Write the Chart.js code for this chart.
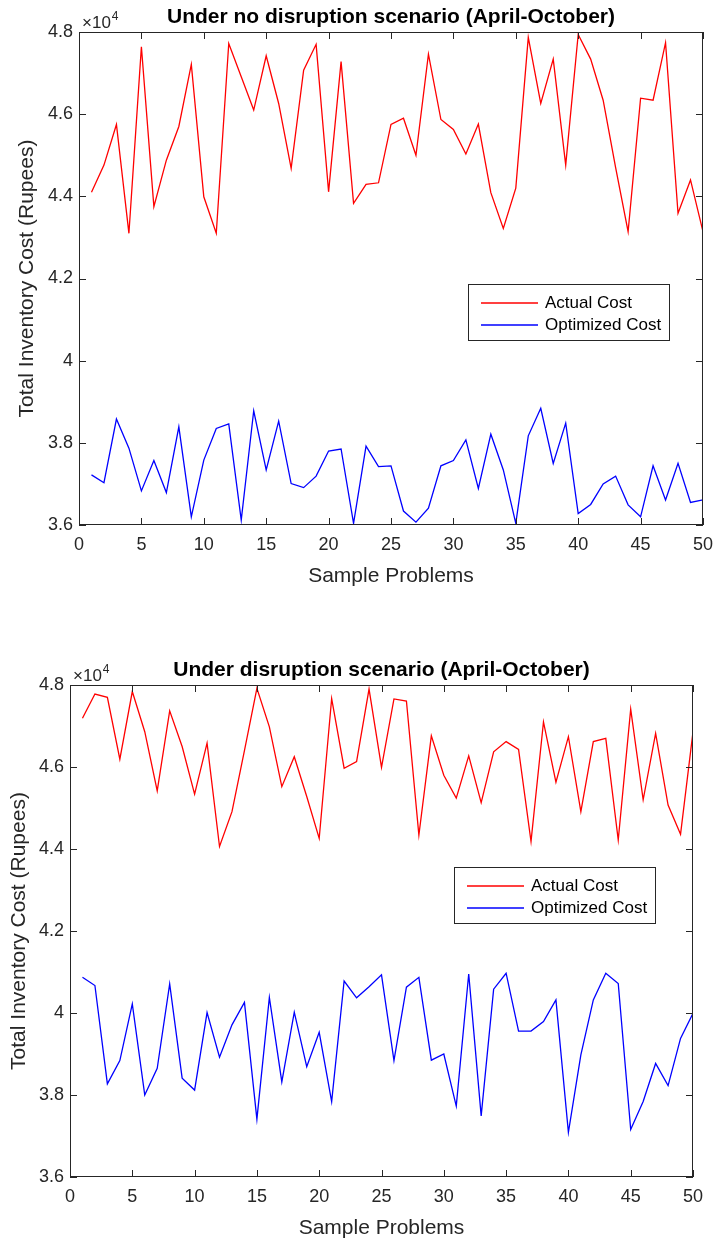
<!DOCTYPE html>
<html>
<head>
<meta charset="utf-8">
<script src="https://cdn.jsdelivr.net/npm/chart.js@4.4.1/dist/chart.umd.min.js"></script>
<style>
  html, body { margin: 0; padding: 0; background: #fff; }
  .wrap { position: relative; width: 722px; }
  canvas { display: block; }
</style>
</head>
<body>
<div class="wrap" style="height:620px"><canvas id="chartTop"></canvas></div>
<div class="wrap" style="height:623px"><canvas id="chartBottom"></canvas></div>
<script>
const samples = [1, 2, 3, 4, 5, 6, 7, 8, 9, 10, 11, 12, 13, 14, 15, 16, 17, 18, 19, 20,
  21, 22, 23, 24, 25, 26, 27, 28, 29, 30, 31, 32, 33, 34, 35, 36, 37, 38, 39, 40,
  41, 42, 43, 44, 45, 46, 47, 48, 49, 50];

// total inventory cost in rupees, under no disruption
const noDisruptionActual = [44100, 44760, 45750, 43100, 47640, 43750, 44880, 45700, 47210, 43990,
  43100, 47720, 46910, 46100, 47420, 46260, 44680, 47070, 47700, 44110,
  47280, 43830, 44290, 44330, 45750, 45900, 45000, 47460, 45870, 45630,
  45030, 45760, 44090, 43220, 44200, 47870, 46260, 47340, 44760, 47940,
  47340, 46340, 44700, 43140, 46390, 46340, 47740, 43590, 44400, 43140];
const noDisruptionOptimized = [37220, 37030, 38580, 37870, 36830, 37570, 36790, 38390, 36200, 37580,
  38350, 38460, 36120, 38780, 37340, 38530, 37010, 36910, 37190, 37800,
  37850, 36040, 37920, 37420, 37440, 36340, 36070, 36410, 37440, 37570,
  38070, 36890, 38210, 37340, 36040, 38170, 38840, 37500, 38480, 36280,
  36500, 37000, 37190, 36490, 36200, 37440, 36610, 37500, 36550, 36610];

// total inventory cost in rupees, under disruption
const disruptionActual = [47190, 47780, 47700, 46190, 47840, 46860, 45420, 47370, 46500, 45340,
  46580, 44060, 44910, 46400, 47920, 46980, 45520, 46250, 45280, 44260,
  47670, 45970, 46130, 47900, 45990, 47660, 47610, 44340, 46760, 45800,
  45240, 46270, 45130, 46370, 46620, 46430, 44180, 47100, 45630, 46740,
  44910, 46620, 46700, 44220, 47410, 45200, 46820, 45070, 44360, 46860];
const disruptionOptimized = [40870, 40670, 38270, 38840, 40220, 38000, 38650, 40710, 38410, 38120,
  40010, 38920, 39710, 40260, 37410, 40380, 38320, 40020, 38690, 39530,
  37840, 40780, 40370, 40640, 40930, 38840, 40630, 40870, 38850, 39000,
  37730, 40950, 37490, 40580, 40970, 39560, 39560, 39790, 40320, 37090,
  38980, 40320, 40970, 40720, 37160, 37840, 38770, 38230, 39380, 39990];

const seriesLabels = ['Actual Cost', 'Optimized Cost'];
const titles = ['Under no disruption scenario (April-October)', 'Under disruption scenario (April-October)'];
const xTitle = 'Sample Problems';
const yTitle = 'Total Inventory Cost (Rupees)';

const FONT = '"Liberation Sans", Arial, Helvetica, sans-serif';
const AXIS = '#262626';

// matlab style box, inward ticks, title, exponent and legend
const matlabFrame = {
  id: 'matlabFrame',
  afterDraw(chart, args, opts) {
    const { ctx, chartArea: a, scales } = chart;
    ctx.save();
    ctx.strokeStyle = AXIS;
    ctx.lineWidth = 1;
    ctx.strokeRect(a.left + 0.5, a.top + 0.5, a.right - a.left - 1, a.bottom - a.top - 1);

    const tl = 7;
    ctx.beginPath();
    scales.x.ticks.forEach(t => {
      const px = Math.round(scales.x.getPixelForValue(t.value)) + 0.5;
      ctx.moveTo(px, a.bottom); ctx.lineTo(px, a.bottom - tl);
      ctx.moveTo(px, a.top); ctx.lineTo(px, a.top + tl);
    });
    scales.y.ticks.forEach(t => {
      const py = Math.round(scales.y.getPixelForValue(t.value)) + 0.5;
      ctx.moveTo(a.left, py); ctx.lineTo(a.left + tl, py);
      ctx.moveTo(a.right, py); ctx.lineTo(a.right - tl, py);
    });
    ctx.stroke();

    // title
    ctx.fillStyle = '#000';
    ctx.font = 'bold 21px ' + FONT;
    ctx.textAlign = 'center';
    ctx.textBaseline = 'alphabetic';
    ctx.fillText(opts.title, (a.left + a.right) / 2, a.top - 9);

    // x10^4
    ctx.fillStyle = AXIS;
    ctx.textAlign = 'left';
    ctx.font = '17px ' + FONT;
    ctx.fillText('\u00d710', a.left + 3, a.top - 4);
    const w = ctx.measureText('\u00d710').width;
    ctx.font = '12px ' + FONT;
    ctx.fillText('4', a.left + 4 + w, a.top - 12);

    // legend
    const b = opts.legendBox;
    ctx.fillStyle = '#fff';
    ctx.fillRect(b.x, b.y, b.w, b.h);
    ctx.strokeStyle = AXIS;
    ctx.strokeRect(b.x + 0.5, b.y + 0.5, b.w, b.h);
    ctx.font = '17px ' + FONT;
    ctx.textBaseline = 'middle';
    chart.data.datasets.forEach((ds, i) => {
      const yy = b.y + 19 + i * 22;
      ctx.strokeStyle = ds.borderColor;
      ctx.lineWidth = 1.3;
      ctx.beginPath();
      ctx.moveTo(b.x + 13, yy); ctx.lineTo(b.x + 70, yy);
      ctx.stroke();
      ctx.fillStyle = '#000';
      ctx.fillText(ds.label, b.x + 77, yy);
    });
    ctx.restore();
  }
};

function makeChart(canvasId, title, actual, optimized, lay) {
  const ctx = document.getElementById(canvasId).getContext('2d');
  return new Chart(ctx, {
    type: 'line',
    data: {
      labels: samples,
      datasets: [
        { label: seriesLabels[0], data: actual, borderColor: '#ff0000', borderWidth: 1.3,
          pointRadius: 0, tension: 0, fill: false },
        { label: seriesLabels[1], data: optimized, borderColor: '#0000ff', borderWidth: 1.3,
          pointRadius: 0, tension: 0, fill: false }
      ]
    },
    options: {
      responsive: true,
      maintainAspectRatio: false,
      animation: false,
      layout: { padding: { top: lay.top, right: lay.right, bottom: lay.bottom, left: 0 } },
      plugins: {
        legend: { display: false },
        title: { display: false },
        tooltip: { enabled: false },
        matlabFrame: { title: title, legendBox: lay.legend }
      },
      scales: {
        x: {
          type: 'linear',
          min: 0,
          max: 50,
          grid: { display: false, drawTicks: false },
          border: { display: false },
          ticks: { stepSize: 5, color: AXIS, padding: 9, maxRotation: 0,
            font: { family: FONT, size: 18 } },
          title: { display: true, text: xTitle, color: AXIS, padding: { top: 0, bottom: 0 },
            font: { family: FONT, size: 21 } },
          afterFit: s => { s.height = lay.xHeight; }
        },
        y: {
          min: 36000,
          max: 48000,
          grid: { display: false, drawTicks: false },
          border: { display: false },
          ticks: { stepSize: 2000, color: AXIS, padding: 6,
            font: { family: FONT, size: 18 },
            callback: v => String(Math.round(v / 1000) / 10) },
          title: { display: true, text: yTitle, color: AXIS, padding: { top: lay.yTitlePad, bottom: 0 },
            font: { family: FONT, size: 21 } },
          afterFit: s => { s.width = lay.yWidth; }
        }
      }
    },
    plugins: [matlabFrame]
  });
}

makeChart('chartTop', titles[0], noDisruptionActual, noDisruptionOptimized,
  { top: 32, right: 19, bottom: 31, xHeight: 64, yWidth: 79, yTitlePad: 15,
    legend: { x: 468, y: 284, w: 201, h: 56 } });
makeChart('chartBottom', titles[1], disruptionActual, disruptionOptimized,
  { top: 65, right: 29, bottom: 2, xHeight: 64, yWidth: 70, yTitlePad: 7,
    legend: { x: 454, y: 247, w: 201, h: 56 } });
</script>
</body>
</html>
